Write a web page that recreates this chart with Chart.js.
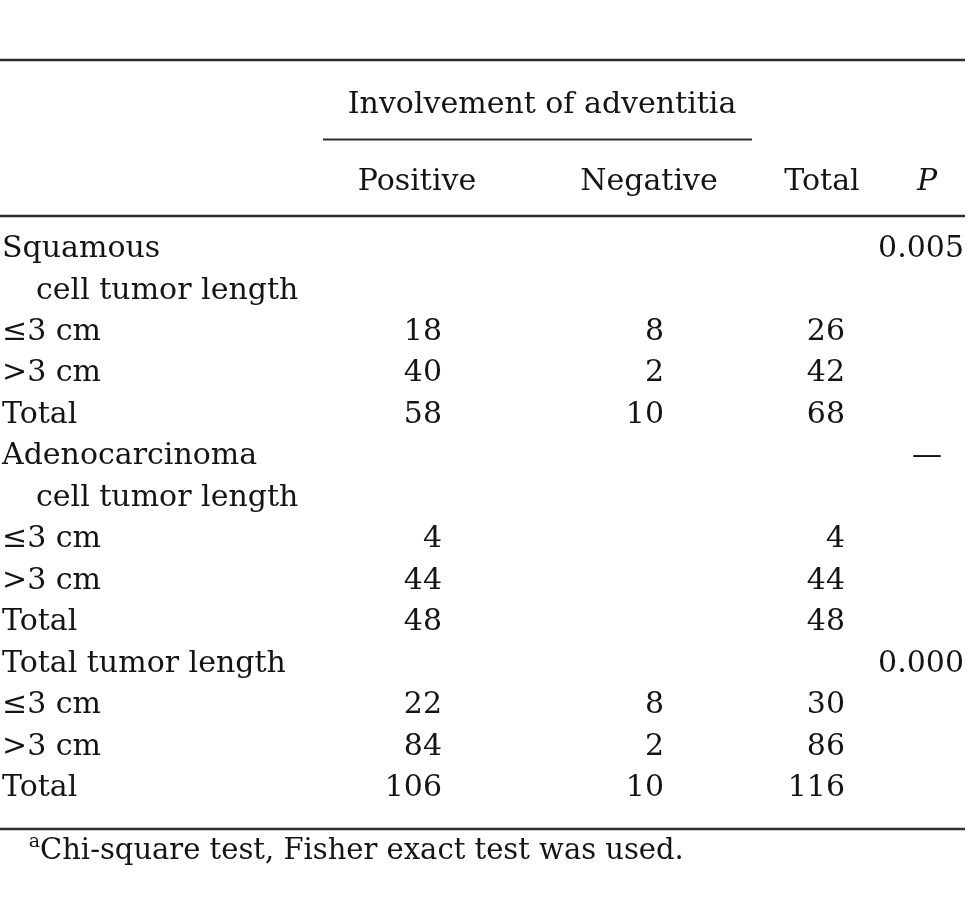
<!DOCTYPE html>
<html>
<head>
<meta charset="utf-8">
<script src="https://cdn.jsdelivr.net/npm/chart.js@4.4.1/dist/chart.umd.min.js"></script>
<style>
  html, body { margin: 0; padding: 0; background: #fff; }
  #wrap { width: 967px; height: 917px; }
</style>
</head>
<body>
<div id="wrap"><canvas id="tableChart"></canvas></div>
<script>
// -------------------------
// Table data
// -------------------------
const rowLabels = [
  "Squamous", "cell tumor length", "\u22643 cm", ">3 cm", "Total",
  "Adenocarcinoma", "cell tumor length", "\u22643 cm", ">3 cm", "Total",
  "Total tumor length", "\u22643 cm", ">3 cm", "Total",
];
const rowIndent = [0, 1, 0, 0, 0, 0, 1, 0, 0, 0, 0, 0, 0, 0];

const positiveCounts = [null, null, 18, 40, 58, null, null, 4, 44, 48, null, 22, 84, 106];
const negativeCounts = [null, null, 8, 2, 10, null, null, null, null, null, null, 8, 2, 10];
const totalCounts = [null, null, 26, 42, 68, null, null, 4, 44, 48, null, 30, 86, 116];
const pValues = ["0.005", null, null, null, null, "\u2014", null, null, null, null, "0.000", null, null, null];

const spanHeader = "Involvement of adventitia";
const columnHeaders = ["Positive", "Negative", "Total", "P"];
const footnoteMark = "a";
const footnoteText = "Chi-square test, Fisher exact test was used.";

// -------------------------
// Layout (x in page units, y in body-row units)
// -------------------------
const layout = {
  labelX: 2,
  indentX: 36,
  colRight: [442, 664, 845, 964],
  colCenter: [417, 649, 822, 927],
  spanLeft: 323,
  spanRight: 752,
  spanCenter: 542,
  tableRight: 965,
  yMin: -6.193,
  yMax: 15.904,
  spanRow: -3.47,
  headerRow: -1.614,
  topRule: -4.747,
  spanRule: -2.831,
  headRule: -0.988,
  bottomRule: 13.783,
  footRow: 14.506,
  footX: 40,
  font: "30px 'DejaVu Serif'",
  italicFont: "italic 30px 'DejaVu Serif'",
  footFont: "29px 'DejaVu Serif'",
  supFont: "19px 'DejaVu Serif'",
  ink: "#141414",
  ruleInk: "#2e2e2e",
};

// -------------------------
// Build datasets
// -------------------------
function cells(values, xFor) {
  const out = [];
  values.forEach((v, i) => {
    if (v == null) return;
    out.push({ x: xFor(i), y: i, text: String(v) });
  });
  return out;
}

function textSet(data, align, font) {
  return {
    type: "scatter",
    data,
    textCells: true,
    align,
    font: font || layout.font,
    pointRadius: 0,
    pointHoverRadius: 0,
  };
}

function rule(y, x0, x1, width) {
  return {
    type: "line",
    data: [{ x: x0, y }, { x: x1, y }],
    borderColor: layout.ruleInk,
    borderWidth: width,
    pointRadius: 0,
    fill: false,
  };
}

const datasets = [
  rule(layout.topRule, 0, layout.tableRight, 2.6),
  rule(layout.spanRule, layout.spanLeft, layout.spanRight, 1.8),
  rule(layout.headRule, 0, layout.tableRight, 2.6),
  rule(layout.bottomRule, 0, layout.tableRight, 2.6),

  textSet(rowLabels.map((t, i) => ({ x: rowIndent[i] ? layout.indentX : layout.labelX, y: i, text: t })), "left"),
  textSet(cells(positiveCounts, () => layout.colRight[0]), "right"),
  textSet(cells(negativeCounts, () => layout.colRight[1]), "right"),
  textSet(cells(totalCounts, () => layout.colRight[2]), "right"),
  textSet(pValues.map((t, i) => t == null ? null : { x: t === "\u2014" ? layout.colCenter[3] : layout.colRight[3], y: i, text: t, align: t === "\u2014" ? "center" : "right" }).filter(Boolean), "right"),

  textSet([{ x: layout.spanCenter, y: layout.spanRow, text: spanHeader }], "center"),
  textSet(columnHeaders.slice(0, 3).map((t, i) => ({ x: layout.colCenter[i], y: layout.headerRow, text: t })), "center"),
  textSet([{ x: layout.colCenter[3], y: layout.headerRow, text: columnHeaders[3] }], "center", layout.italicFont),

  textSet([{ x: layout.footX, y: layout.footRow, text: footnoteText, sup: footnoteMark }], "left", layout.footFont),
];

// -------------------------
// Text plugin
// -------------------------
const cellText = {
  id: "cellText",
  afterDatasetsDraw(chart) {
    const ctx = chart.ctx;
    chart.data.datasets.forEach((ds, di) => {
      if (!ds.textCells) return;
      const meta = chart.getDatasetMeta(di);
      meta.data.forEach((el, i) => {
        const item = ds.data[i];
        ctx.save();
        ctx.fillStyle = layout.ink;
        ctx.textBaseline = "alphabetic";
        if (item.sup) {
          ctx.font = layout.supFont;
          ctx.textAlign = "right";
          ctx.fillText(item.sup, el.x, el.y - 12);
        }
        ctx.font = ds.font;
        ctx.textAlign = item.align || ds.align;
        ctx.fillText(item.text, el.x, el.y);
        ctx.restore();
      });
    });
  },
};

new Chart(document.getElementById("tableChart"), {
  data: { datasets },
  plugins: [cellText],
  options: {
    responsive: true,
    maintainAspectRatio: false,
    animation: false,
    layout: { padding: 0 },
    plugins: { legend: { display: false }, tooltip: { enabled: false } },
    scales: {
      x: { type: "linear", min: 0, max: 967, display: false },
      y: { type: "linear", min: layout.yMin, max: layout.yMax, reverse: true, display: false },
    },
  },
});
</script>
</body>
</html>
